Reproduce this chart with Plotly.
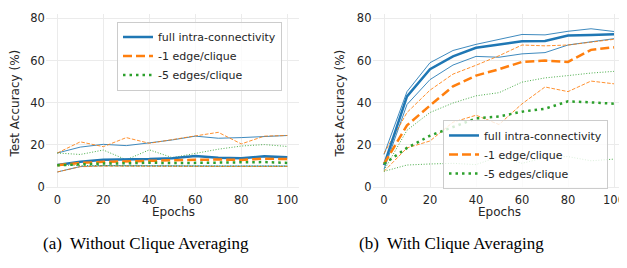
import plotly.graph_objects as go

epochs = [0, 10, 20, 30, 40, 50, 60, 70, 80, 90, 100]

# (a) Without Clique Averaging
a_full_mean = [10.5, 12.0, 13.0, 13.1, 13.3, 13.7, 14.8, 14.0, 13.7, 14.6, 14.2]
a_full_max = [16.2, 19.0, 20.3, 19.7, 21.0, 22.4, 24.2, 23.2, 23.5, 24.0, 24.5]
a_full_min = [7.2, 9.8, 10.2, 10.1, 10.1, 10.0, 10.0, 10.0, 10.0, 10.0, 10.0]
a_e1_mean = [10.4, 11.5, 12.0, 12.3, 12.5, 12.7, 13.0, 13.1, 12.9, 13.5, 13.3]
a_e1_max = [16.2, 21.5, 19.2, 23.5, 20.8, 22.4, 24.3, 26.0, 20.5, 24.2, 24.5]
a_e1_min = [7.2, 9.7, 10.0, 9.9, 9.9, 9.8, 9.8, 9.8, 9.8, 9.8, 9.8]
a_e5_mean = [10.4, 10.9, 11.2, 11.3, 11.6, 11.4, 11.5, 11.8, 11.8, 11.9, 11.5]
a_e5_max = [16.2, 15.5, 17.6, 13.0, 17.7, 14.0, 16.0, 18.0, 19.5, 20.2, 19.3]
a_e5_min = [10.4, 10.2, 10.2, 10.1, 10.1, 10.0, 10.0, 10.0, 10.0, 10.0, 10.0]

# (b) With Clique Averaging
b_full_mean = [10.5, 43.0, 55.9, 62.0, 66.1, 67.7, 69.2, 69.3, 71.9, 72.2, 72.5]
b_full_max = [15.5, 45.3, 59.0, 64.8, 67.7, 70.0, 72.4, 72.2, 73.9, 75.1, 73.8]
b_full_min = [8.5, 39.2, 51.0, 57.9, 62.0, 61.6, 63.2, 63.8, 67.4, 68.9, 70.4]
b_e1_mean = [11.0, 29.3, 38.7, 47.8, 52.9, 55.9, 59.4, 60.0, 59.4, 65.1, 66.3]
b_e1_max = [16.0, 35.4, 46.0, 53.6, 57.8, 62.3, 67.4, 67.0, 67.4, 68.9, 70.1]
b_e1_min = [7.5, 18.6, 21.9, 30.8, 34.1, 29.7, 39.5, 47.5, 45.3, 50.3, 49.0]
b_e5_mean = [11.0, 18.6, 24.4, 28.5, 32.6, 33.5, 35.8, 37.2, 40.7, 40.2, 39.6]
b_e5_max = [8.0, 27.0, 35.4, 39.9, 43.3, 44.8, 49.8, 51.8, 52.9, 54.1, 54.9]
b_e5_min = [7.5, 10.5, 11.0, 11.3, 10.7, 14.5, 11.3, 14.0, 14.5, 12.5, 13.3]

series_names = ["full intra-connectivity", "-1 edge/clique", "-5 edges/clique"]
tick_vals_y = [0, 20, 40, 60, 80]
tick_vals_x = [0, 20, 40, 60, 80, 100]
captions = ["(a)  Without Clique Averaging", "(b)  With Clique Averaging"]

colors = ["#1f77b4", "#ff7f0e", "#2ca02c"]
thick_dash = ["solid", "9px,4px", "2.5px,4px"]
thin_dash = ["solid", "3.7px,1.6px", "1px,1.7px"]

# The page body has an 8px margin; the figure is sized/positioned to compensate.
OFF = 8
W, H = 619, 252
fig = go.Figure()

panels = [
    ([a_full_mean, a_e1_mean, a_e5_mean], [a_full_max, a_e1_max, a_e5_max], [a_full_min, a_e1_min, a_e5_min], "x", "y", "legend"),
    ([b_full_mean, b_e1_mean, b_e5_mean], [b_full_max, b_e1_max, b_e5_max], [b_full_min, b_e1_min, b_e5_min], "x2", "y2", "legend2"),
]

for means, maxs, mins, xa, ya, lg in panels:
    for i in range(3):
        for arr in (maxs[i], mins[i]):
            fig.add_trace(go.Scatter(x=epochs, y=arr, mode="lines", xaxis=xa, yaxis=ya,
                                     line=dict(color=colors[i], width=1, dash=thin_dash[i]),
                                     opacity=0.85, showlegend=False, hoverinfo="skip"))
    for i in range(3):
        fig.add_trace(go.Scatter(x=epochs, y=means[i], mode="lines", xaxis=xa, yaxis=ya,
                                 name=series_names[i], legend=lg,
                                 line=dict(color=colors[i], width=2.5, dash=thick_dash[i])))

def px_x(p):
    return (p - OFF) / W

def px_y(p):
    return (H - (p - OFF)) / H

tick_font = dict(family="DejaVu Sans", size=11.5, color="#262626")
axis_common = dict(showgrid=True, gridcolor="#ebebeb", gridwidth=1, zeroline=False,
                   showline=False, ticks="", tickfont=tick_font)

# y: 0 -> 190.7px, 80 -> 15.7px (2.1875 px per unit); range [-0.5, 82]
ydom = [px_y(190.7 + 0.5 * 2.1875), px_y(15.7 - 2 * 2.1875)]
leg_font = dict(family="DejaVu Sans", size=11, color="#262626")
fig.update_layout(
    width=W, height=H,
    margin=dict(l=0, r=0, t=0, b=0),
    paper_bgcolor="white", plot_bgcolor="white",
    xaxis=dict(domain=[px_x(45.8), px_x(298.8)], range=[-5, 105], tickvals=tick_vals_x, anchor="y",
               ticklabelstandoff=3, **axis_common),
    yaxis=dict(domain=ydom, range=[-0.5, 82], tickvals=tick_vals_y, anchor="x", **axis_common),
    xaxis2=dict(domain=[px_x(372.5), px_x(625.5)], range=[-5, 105], tickvals=tick_vals_x, anchor="y2",
                ticklabelstandoff=3, **axis_common),
    yaxis2=dict(domain=ydom, range=[-0.5, 82], tickvals=tick_vals_y, anchor="x2", **axis_common),
    legend=dict(x=px_x(117), y=px_y(19), xanchor="left", yanchor="top",
                bordercolor="#cccccc", borderwidth=1, bgcolor="rgba(255,255,255,0.8)",
                font=leg_font, tracegroupgap=0),
    legend2=dict(x=px_x(443), y=px_y(121), xanchor="left", yanchor="top",
                 bordercolor="#cccccc", borderwidth=1, bgcolor="rgba(255,255,255,0.8)",
                 font=leg_font, tracegroupgap=0),
)

ann = []
label_font = dict(family="DejaVu Sans", size=12, color="#262626")
for cx in (15, 340):
    ann.append(dict(text="Test Accuracy (%)", x=px_x(cx), y=px_y(104), xref="paper", yref="paper",
                    textangle=-90, showarrow=False, font=label_font, xanchor="center", yanchor="middle"))
for cx in (173, 499):
    ann.append(dict(text="Epochs", x=px_x(cx), y=px_y(216), xref="paper", yref="paper",
                    showarrow=False, font=label_font, xanchor="center", yanchor="middle"))
for cx, t in zip((146, 451), captions):
    ann.append(dict(text=t, x=px_x(cx), y=px_y(249), xref="paper", yref="paper",
                    showarrow=False, font=dict(family="Liberation Serif", size=17, color="black"),
                    xanchor="center", yanchor="middle"))
fig.update_layout(annotations=ann)

fig.write_html("out.html")
